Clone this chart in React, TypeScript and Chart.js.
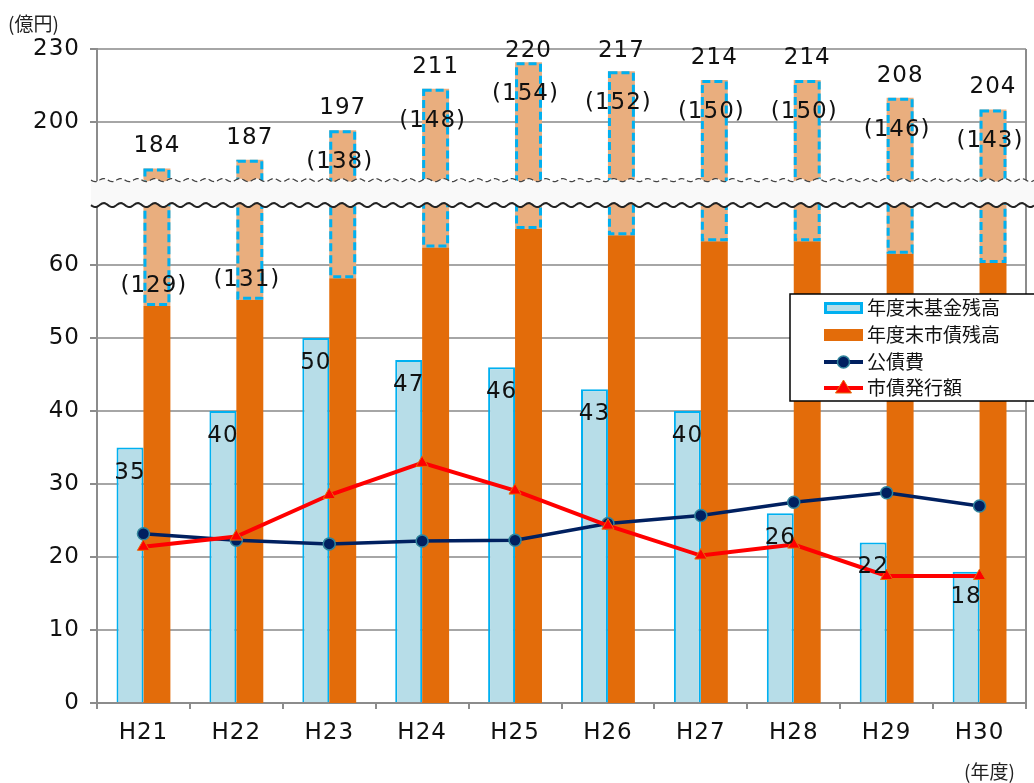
import React, { useEffect, useRef } from 'react';
import { Chart, registerables } from 'chart.js';

Chart.register(...registerables);

// ---- data ----
const YEARS = ['H21', 'H22', 'H23', 'H24', 'H25', 'H26', 'H27', 'H28', 'H29', 'H30'];
const FUND_BALANCE = [35, 40, 50, 47, 46, 43, 40, 26, 22, 18];
const DEBT_BALANCE = [184, 187, 197, 211, 220, 217, 214, 214, 208, 204];
const DEBT_EXCL = [129, 131, 138, 148, 154, 152, 150, 150, 146, 143];
const DEBT_SERVICE = [23.2, 22.3, 21.8, 22.2, 22.3, 24.6, 25.7, 27.5, 28.8, 27.0];
const BOND_ISSUE = [21.4, 22.8, 28.5, 32.9, 29.1, 24.3, 20.2, 21.7, 17.4, 17.4];
const LOWER_TICKS = [0, 10, 20, 30, 40, 50, 60];
const UPPER_TICKS = [200, 230];
const SERIES_NAMES = ['年度末基金残高', '年度末市債残高', '公債費', '市債発行額'];
const Y_UNIT = '(億円)';
const X_UNIT = '(年度)';

// axis ranges (broken axis: lower panel and upper panel)
const LOWER_RANGE = [0, 70];
const UPPER_RANGE = [171, 230];
const UPPER_BAR_RANGE = [176, 224.5];
const DEBT_LOWER_RANGE = [0, 166];

const NUM_FAMILY = '"DejaVu Sans", "Noto Sans", sans-serif';
const JP_FAMILY = '"Noto Sans CJK JP", "Noto Sans", sans-serif';
const NUM_SIZE = 23;
const NUM_WEIGHT = 'normal';
const LETTER_SPACING = '1px';

const C_FUND = '#b7dde8';
const C_FUND_BORDER = '#00b0f0';
const C_DEBT = '#e36c0a';
const C_DEBT_LIGHT = '#e9ae7e';
const C_NAVY = '#002060';
const C_RED = '#ff0000';
const C_GRID = '#a6a6a6';
const C_AXIS = '#8c8c8c';

const brokenAxisPlugin = {
  id: 'brokenAxis',
  beforeDraw(chart: any) {
    chart.ctx.letterSpacing = LETTER_SPACING;
  },
  beforeDatasetsDraw(chart: any) {
    const { ctx, chartArea } = chart;
    ctx.save();
    ctx.strokeStyle = C_AXIS;
    ctx.lineWidth = 2;
    ctx.beginPath();
    ctx.moveTo(chartArea.right, chartArea.top);
    ctx.lineTo(chartArea.right, chartArea.bottom);
    ctx.stroke();
    ctx.restore();
  },
  beforeDatasetDraw(chart: any, args: any) {
    const { ctx, chartArea } = chart;
    const ys = args.meta.yScale;
    ctx.save();
    ctx.beginPath();
    ctx.rect(chartArea.left - 10, ys.top, chartArea.right - chartArea.left + 20, ys.bottom - ys.top);
    ctx.clip();
  },
  afterDatasetDraw(chart: any) {
    chart.ctx.restore();
  },
  afterDatasetsDraw(chart: any) {
    const { ctx, chartArea } = chart;
    // dashed outlines for the light debt bars
    chart.data.datasets.forEach((ds: any, i: number) => {
      if (!ds.dashedOutline) return;
      const meta = chart.getDatasetMeta(i);
      const ys = meta.yScale;
      ctx.save();
      ctx.beginPath();
      ctx.rect(chartArea.left, ys.top, chartArea.right - chartArea.left, ys.bottom - ys.top);
      ctx.clip();
      ctx.strokeStyle = C_FUND_BORDER;
      ctx.lineWidth = 3;
      ctx.setLineDash([8, 4]);
      meta.data.forEach((el: any) => {
        const { x, y, base, width } = el.getProps(['x', 'y', 'base', 'width'], true);
        const l = x - width / 2 + 1.5;
        const r = x + width / 2 - 1.5;
        const t = Math.min(y, base) + 1.5;
        const b = Math.max(y, base) - 1.5;
        ctx.strokeRect(l, t, r - l, b - t);
      });
      ctx.restore();
    });

    // break band
    const split = chart.scales.yBottom.top;
    const x0 = chartArea.left - 6;
    const x1 = chart.width;
    const topY = split - 12;
    const botY = split + 13;
    const wave = (x: number, amp: number) => amp * Math.sin(((x - x0) / 17) * Math.PI * 2);
    ctx.save();
    ctx.beginPath();
    for (let x = x0; x <= x1; x += 1) {
      const y = topY + wave(x, 1.5);
      if (x === x0) ctx.moveTo(x, y);
      else ctx.lineTo(x, y);
    }
    for (let x = x1; x >= x0; x -= 1) ctx.lineTo(x, botY + wave(x, 2));
    ctx.closePath();
    ctx.fillStyle = '#f9f9f9';
    ctx.fill();
    ctx.beginPath();
    for (let x = x0; x <= x1; x += 1) {
      const y = topY + wave(x, 1.5);
      if (x === x0) ctx.moveTo(x, y);
      else ctx.lineTo(x, y);
    }
    ctx.setLineDash([6, 3]);
    ctx.strokeStyle = '#444';
    ctx.lineWidth = 1.2;
    ctx.stroke();
    ctx.beginPath();
    for (let x = x0; x <= x1; x += 1) {
      const y = botY + wave(x, 2);
      if (x === x0) ctx.moveTo(x, y);
      else ctx.lineTo(x, y);
    }
    ctx.setLineDash([]);
    ctx.strokeStyle = '#222';
    ctx.lineWidth = 2;
    ctx.stroke();
    ctx.restore();

    // value labels
    const yBars = chart.scales.yBars;
    const yDebt = chart.scales.yDebt;
    const yB = chart.scales.yBottom;
    const upperMeta = chart.getDatasetMeta(5);
    const fundMeta = chart.getDatasetMeta(2);
    ctx.save();
    ctx.font = `${NUM_WEIGHT} ${NUM_SIZE}px ${NUM_FAMILY}`;
    ctx.textAlign = 'center';
    ctx.textBaseline = 'middle';
    ctx.fillStyle = '#111';
    DEBT_BALANCE.forEach((v, i) => {
      const x = upperMeta.data[i].x;
      const top = yBars.getPixelForValue(v);
      ctx.fillText(String(v), x, Math.max(top - 22, chartArea.top + 2.5));
      let ly = top + 32;
      if (ly > yBars.bottom - 25) ly = yDebt.getPixelForValue(DEBT_EXCL[i]) - 20;
      ctx.fillText(`(${DEBT_EXCL[i]})`, x - 3, ly);
    });
    FUND_BALANCE.forEach((v, i) => {
      const el = fundMeta.data[i];
      ctx.fillText(String(v), el.x, yB.getPixelForValue(v) + 25);
    });
    ctx.restore();
  },
  afterDraw(chart: any) {
    const { ctx } = chart;
    ctx.save();
    ctx.letterSpacing = '0px';
    // units
    ctx.font = `19px ${JP_FAMILY}`;
    ctx.fillStyle = '#222';
    ctx.textBaseline = 'middle';
    ctx.textAlign = 'left';
    ctx.fillText(Y_UNIT, 8, 24);
    ctx.fillText(X_UNIT, 964, 772);

    // legend
    const lx = 790;
    const ly = 294;
    const lw = chart.width - lx + 2;
    const lh = 107;
    ctx.fillStyle = '#fff';
    ctx.fillRect(lx, ly, lw, lh);
    ctx.strokeStyle = '#000';
    ctx.lineWidth = 1.5;
    ctx.strokeRect(lx, ly, lw, lh);
    const rows = [308, 335, 362, 388];
    const sx0 = 824;
    const sx1 = 863;
    const sxc = (sx0 + sx1) / 2;
    ctx.fillStyle = C_FUND;
    ctx.fillRect(sx0 + 1.5, rows[0] - 4.5, sx1 - sx0 - 3, 9);
    ctx.strokeStyle = C_FUND_BORDER;
    ctx.lineWidth = 3;
    ctx.strokeRect(sx0 + 1.5, rows[0] - 4.5, sx1 - sx0 - 3, 9);
    ctx.fillStyle = C_DEBT;
    ctx.fillRect(sx0, rows[1] - 6, sx1 - sx0, 12);
    ctx.strokeStyle = C_NAVY;
    ctx.lineWidth = 4;
    ctx.beginPath();
    ctx.moveTo(sx0, rows[2]);
    ctx.lineTo(sx1, rows[2]);
    ctx.stroke();
    ctx.beginPath();
    ctx.arc(sxc, rows[2], 6, 0, Math.PI * 2);
    ctx.fillStyle = C_NAVY;
    ctx.fill();
    ctx.strokeStyle = '#31859c';
    ctx.lineWidth = 1.5;
    ctx.stroke();
    ctx.strokeStyle = C_RED;
    ctx.lineWidth = 4;
    ctx.beginPath();
    ctx.moveTo(sx0, rows[3]);
    ctx.lineTo(sx1, rows[3]);
    ctx.stroke();
    ctx.beginPath();
    ctx.moveTo(sxc, rows[3] - 8);
    ctx.lineTo(sxc + 8, rows[3] + 5);
    ctx.lineTo(sxc - 8, rows[3] + 5);
    ctx.closePath();
    ctx.fillStyle = C_RED;
    ctx.fill();
    ctx.strokeStyle = '#e46c0a';
    ctx.lineWidth = 1;
    ctx.stroke();
    ctx.font = `19px ${JP_FAMILY}`;
    ctx.fillStyle = '#111';
    ctx.textAlign = 'left';
    ctx.textBaseline = 'middle';
    SERIES_NAMES.forEach((name, i) => ctx.fillText(name, 867, rows[i]));
    ctx.restore();
  },
};

export default function App() {
  const ref = useRef<HTMLCanvasElement>(null);
  useEffect(() => {
    document.body.style.margin = '0';
    const tickFont = { family: NUM_FAMILY, size: NUM_SIZE, weight: NUM_WEIGHT };
    const chart = new Chart(ref.current as HTMLCanvasElement, {
      type: 'bar',
      data: {
        labels: YEARS,
        datasets: [
          {
            type: 'line',
            label: SERIES_NAMES[3],
            data: BOND_ISSUE,
            yAxisID: 'yBottom',
            borderColor: C_RED,
            borderWidth: 4,
            pointStyle: 'triangle',
            pointRadius: 7,
            pointBackgroundColor: C_RED,
            pointBorderColor: '#e46c0a',
            pointBorderWidth: 1,
            tension: 0,
          } as any,
          {
            type: 'line',
            label: SERIES_NAMES[2],
            data: DEBT_SERVICE,
            yAxisID: 'yBottom',
            borderColor: C_NAVY,
            borderWidth: 3.5,
            pointStyle: 'circle',
            pointRadius: 6,
            pointBackgroundColor: C_NAVY,
            pointBorderColor: '#31859c',
            pointBorderWidth: 1.5,
            tension: 0,
          } as any,
          {
            type: 'bar',
            label: SERIES_NAMES[0],
            data: FUND_BALANCE,
            yAxisID: 'yBottom',
            stack: 'fund',
            backgroundColor: C_FUND,
            borderColor: C_FUND_BORDER,
            borderWidth: 2,
          } as any,
          {
            type: 'bar',
            label: SERIES_NAMES[1],
            data: DEBT_EXCL,
            yAxisID: 'yDebt',
            stack: 'debt',
            backgroundColor: C_DEBT,
          } as any,
          {
            type: 'bar',
            label: SERIES_NAMES[1] + '-lower',
            data: DEBT_EXCL.map((v, i) => [v, DEBT_BALANCE[i]]),
            yAxisID: 'yDebt',
            stack: 'debt',
            backgroundColor: C_DEBT_LIGHT,
            dashedOutline: true,
          } as any,
          {
            type: 'bar',
            label: SERIES_NAMES[1] + '-upper',
            data: DEBT_EXCL.map((v, i) => [v, DEBT_BALANCE[i]]),
            yAxisID: 'yBars',
            stack: 'debt',
            backgroundColor: C_DEBT_LIGHT,
            dashedOutline: true,
          } as any,
        ],
      },
      options: {
        responsive: false,
        animation: false,
        events: [],
        layout: { padding: { top: 49, right: 7, left: 0, bottom: 0 } },
        datasets: {
          bar: { categoryPercentage: 0.58, barPercentage: 1 },
        },
        plugins: {
          legend: { display: false },
          tooltip: { enabled: false },
        },
        scales: {
          x: {
            type: 'category',
            offset: true,
            grid: { offset: true, drawOnChartArea: false, tickLength: 6, color: C_AXIS, lineWidth: 2 },
            border: { color: C_AXIS, width: 2 },
            ticks: { font: tickFont, color: '#111', padding: 10, maxRotation: 0 },
            afterFit: (s: any) => { s.height = 80; },
          },
          // left stack is laid out in reverse order: bottom panel listed first
          yBottom: {
            type: 'linear',
            position: 'left',
            stack: 'v',
            stackWeight: 510.5,
            stacked: false,
            min: LOWER_RANGE[0],
            max: LOWER_RANGE[1],
            afterBuildTicks: (s: any) => { s.ticks = LOWER_TICKS.map((v) => ({ value: v })); },
            grid: { color: C_GRID, lineWidth: 2, tickLength: 7, tickColor: C_AXIS },
            border: { color: C_AXIS, width: 2 },
            ticks: { font: tickFont, color: '#111', padding: 10 },
            afterFit: (s: any) => { s.width = 97; },
          },
          yTop: {
            type: 'linear',
            position: 'left',
            stack: 'v',
            stackWeight: 143,
            stacked: false,
            min: UPPER_RANGE[0],
            max: UPPER_RANGE[1],
            afterBuildTicks: (s: any) => { s.ticks = UPPER_TICKS.map((v) => ({ value: v })); },
            grid: { color: C_GRID, lineWidth: 2, tickLength: 7, tickColor: C_AXIS },
            border: { color: C_AXIS, width: 2 },
            ticks: { font: tickFont, color: '#111', padding: 10 },
            afterFit: (s: any) => { s.width = 97; },
          },
          yBars: {
            type: 'linear',
            position: 'right',
            stack: 'r',
            stackWeight: 143,
            stacked: false,
            display: false,
            min: UPPER_BAR_RANGE[0],
            max: UPPER_BAR_RANGE[1],
          },
          yDebt: {
            type: 'linear',
            position: 'right',
            stack: 'r',
            stackWeight: 510.5,
            stacked: false,
            display: false,
            min: DEBT_LOWER_RANGE[0],
            max: DEBT_LOWER_RANGE[1],
          },
        } as any,
      },
      plugins: [brokenAxisPlugin],
    } as any);
    return () => chart.destroy();
  }, []);
  return (
    <div style={{ width: 1034, height: 783, background: '#fff' }}>
      <canvas ref={ref} width={1034} height={783} style={{ display: 'block', width: 1034, height: 783 }} />
    </div>
  );
}
